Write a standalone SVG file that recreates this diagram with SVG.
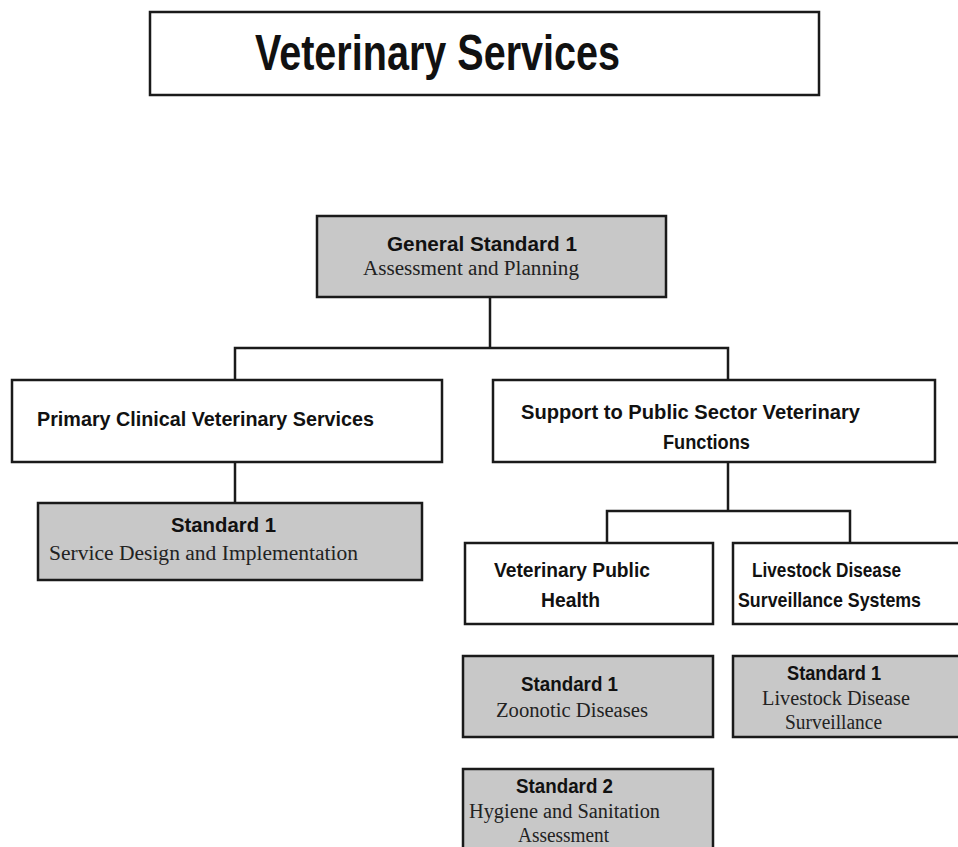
<svg xmlns="http://www.w3.org/2000/svg" width="958" height="847" viewBox="0 0 958 847">
<style>
.box{stroke:#1a1a1a;stroke-width:2.5}
.w{fill:#ffffff}
.g{fill:#c8c8c8}
.h{font-family:"Liberation Sans",Arial,sans-serif;font-weight:bold;fill:#111;font-size:21px}
.s{font-family:"Liberation Serif","Times New Roman",serif;fill:#222;font-size:20px}
.c{stroke:#1a1a1a;stroke-width:2.5;fill:none}
</style>
<rect width="958" height="847" fill="#ffffff"/>
<g id="title">
<rect class="box w" x="150" y="12" width="669" height="83"/>
<text class="h" x="255" y="70" style="font-size:50px" textLength="365" lengthAdjust="spacingAndGlyphs">Veterinary Services</text>
</g>
<g id="connectors">
<polyline class="c" points="490,297 490,348"/>
<polyline class="c" points="235,380 235,348 728,348 728,380"/>
<polyline class="c" points="235,462 235,503"/>
<polyline class="c" points="728,462 728,511"/>
<polyline class="c" points="607,543 607,511 850,511 850,543"/>
</g>
<g id="general">
<rect class="box g" x="317" y="216" width="349" height="81"/>
<text class="h" x="387" y="251" textLength="190" lengthAdjust="spacingAndGlyphs">General  Standard  1</text>
<text class="s" x="363" y="275" textLength="216" lengthAdjust="spacingAndGlyphs">Assessment  and Planning</text>
</g>
<g id="primary">
<rect class="box w" x="12" y="380" width="430" height="82"/>
<text class="h" x="37" y="426" textLength="337" lengthAdjust="spacingAndGlyphs">Primary  Clinical  Veterinary  Services</text>
</g>
<g id="support">
<rect class="box w" x="493" y="380" width="442" height="82"/>
<text class="h" x="521" y="419" textLength="339" lengthAdjust="spacingAndGlyphs">Support  to Public  Sector Veterinary</text>
<text class="h" x="663" y="449" textLength="87" lengthAdjust="spacingAndGlyphs">Functions</text>
</g>
<g id="primary-std1">
<rect class="box g" x="38" y="503" width="384" height="77"/>
<text class="h" x="171" y="532" textLength="105" lengthAdjust="spacingAndGlyphs">Standard  1</text>
<text class="s" x="49" y="560" textLength="309" lengthAdjust="spacingAndGlyphs">Service  Design  and Implementation</text>
</g>
<g id="vph">
<rect class="box w" x="465" y="543" width="248" height="81"/>
<text class="h" x="494" y="577" textLength="156" lengthAdjust="spacingAndGlyphs">Veterinary  Public</text>
<text class="h" x="541" y="607" textLength="59" lengthAdjust="spacingAndGlyphs">Health</text>
</g>
<g id="ldss">
<rect class="box w" x="733" y="543" width="230" height="81"/>
<text class="h" x="752" y="577" textLength="149" lengthAdjust="spacingAndGlyphs">Livestock Disease</text>
<text class="h" x="738" y="607" textLength="183" lengthAdjust="spacingAndGlyphs">Surveillance Systems</text>
</g>
<g id="vph-std1">
<rect class="box g" x="463" y="656" width="250" height="81"/>
<text class="h" x="521" y="691" textLength="97" lengthAdjust="spacingAndGlyphs">Standard 1</text>
<text class="s" x="496" y="717" textLength="152" lengthAdjust="spacingAndGlyphs">Zoonotic  Diseases</text>
</g>
<g id="ldss-std1">
<rect class="box g" x="733" y="656" width="230" height="81"/>
<text class="h" x="787" y="680" textLength="94" lengthAdjust="spacingAndGlyphs">Standard 1</text>
<text class="s" x="762" y="705" textLength="148" lengthAdjust="spacingAndGlyphs">Livestock  Disease</text>
<text class="s" x="785" y="729" textLength="97" lengthAdjust="spacingAndGlyphs">Surveillance</text>
</g>
<g id="vph-std2">
<rect class="box g" x="463" y="769" width="250" height="90"/>
<text class="h" x="516" y="793" textLength="97" lengthAdjust="spacingAndGlyphs">Standard 2</text>
<text class="s" x="469" y="818" textLength="191" lengthAdjust="spacingAndGlyphs">Hygiene  and Sanitation</text>
<text class="s" x="518" y="842" textLength="91" lengthAdjust="spacingAndGlyphs">Assessment</text>
</g>
</svg>
